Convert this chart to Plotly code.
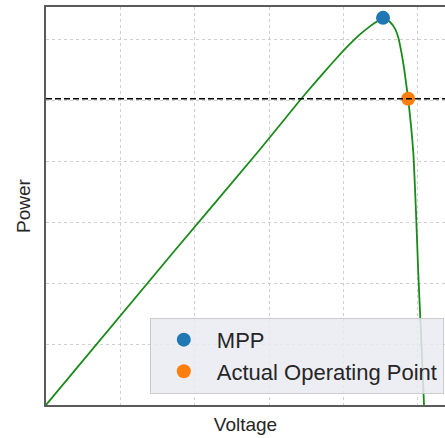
import plotly.graph_objects as go

# PV curve (voltage in V, power in W; axis ticks are hidden)
voltage = [0.0, 17.0, 28.67, 34.14, 36.16, 38.17, 39.52, 40.86, 42.20, 43.32, 44.22, 44.89,
           45.30, 45.56, 46.24, 46.91, 47.35, 47.81, 48.12, 48.39, 48.68, 49.37, 49.73,
           50.04, 50.40, 50.81]
power = [0.0, 124.5, 209.0, 250.0, 264.5, 278.5, 287.6, 296.2, 304.0, 309.6, 313.5, 316.0,
         317.2, 317.0, 314.2, 308.8, 301.5, 288.0, 276.5, 264.5, 251.2, 207.0, 158.4,
         108.0, 58.8, 0.0]

mpp_v = [45.3]
mpp_p = [317.6]
op_v = [48.68]
op_p = [251.2]
limit_power = 251.2

x_range = [0, 53.63]
y_range = [0, 326.5]

fig = go.Figure()

fig.add_trace(go.Scatter(x=voltage, y=power, mode="lines",
                         line=dict(color="#1a8a1a", width=1.8, shape="spline", smoothing=0.4),
                         showlegend=False, hoverinfo="skip"))

fig.add_hline(y=limit_power, line=dict(color="black", width=1.6, dash="6px,3px"))

fig.add_trace(go.Scatter(x=mpp_v, y=mpp_p, mode="markers", name="MPP",
                         legendgroup="a",
                         marker=dict(color="#1f77b4", size=14)))
fig.add_trace(go.Scatter(x=op_v, y=op_p, mode="markers", name="Actual Operating Point",
                         legendgroup="b",
                         marker=dict(color="#ff7f0e", size=14)))

axis_common = dict(showticklabels=False, ticks="", showgrid=True,
                   gridcolor="#cfcfcf", griddash="dot", gridwidth=1,
                   zeroline=False, linecolor="#5a5a5a", linewidth=2, showline=True)

fig.update_layout(
    width=445, height=438,
    margin=dict(l=46, r=0, t=7, b=33),
    paper_bgcolor="white", plot_bgcolor="white",
    font=dict(family="Liberation Sans, Arial, sans-serif", color="#262626"),
    xaxis=dict(range=x_range, dtick=10, tick0=0, mirror=True,
               title=dict(text="Voltage", font=dict(size=19), standoff=12),
               **axis_common),
    yaxis=dict(range=y_range, dtick=50, tick0=0, mirror=False,
               title=dict(text="Power", font=dict(size=19), standoff=8),
               **axis_common),
    legend=dict(x=0.997, y=0.028, xanchor="right", yanchor="bottom",
                bgcolor="rgba(234,234,242,0.85)", bordercolor="rgba(200,200,200,0.9)",
                borderwidth=1, font=dict(size=22, color="#262626"),
                itemwidth=56, tracegroupgap=0),
)

fig.write_html("out.html")
